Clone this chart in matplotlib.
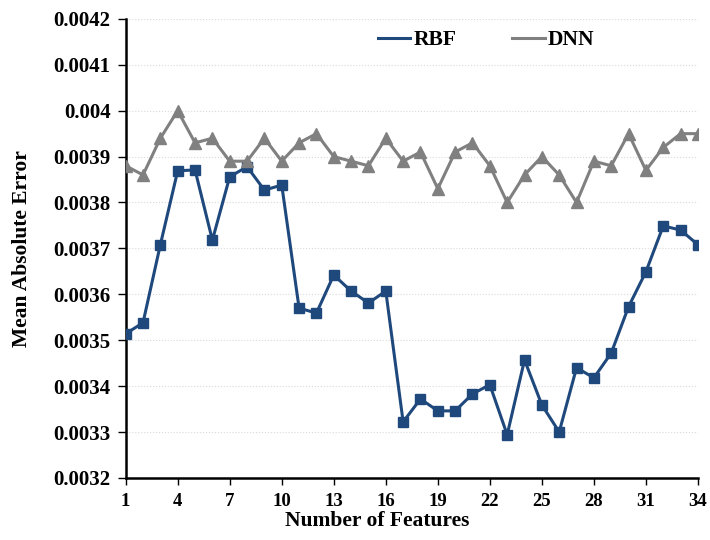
import matplotlib.pyplot as plt

features = list(range(1, 35))
rbf = [0.003514, 0.003538, 0.003708, 0.003869, 0.003871, 0.003718, 0.003856, 0.003878,
       0.003827, 0.003838, 0.003570, 0.003559, 0.003642, 0.003607, 0.003581, 0.003607,
       0.003322, 0.003372, 0.003346, 0.003346, 0.003383, 0.003403, 0.003294, 0.003457,
       0.003359, 0.003300, 0.003440, 0.003418, 0.003472, 0.003573, 0.003649, 0.003749,
       0.003740, 0.003708]
dnn = [0.00388, 0.00386, 0.00394, 0.00400, 0.00393, 0.00394, 0.00389, 0.00389,
       0.00394, 0.00389, 0.00393, 0.00395, 0.00390, 0.00389, 0.00388, 0.00394,
       0.00389, 0.00391, 0.00383, 0.00391, 0.00393, 0.00388, 0.00380, 0.00386,
       0.00390, 0.00386, 0.00380, 0.00389, 0.00388, 0.00395, 0.00387, 0.00392,
       0.00395, 0.00395]
xticks = list(range(1, 35, 3))
yticks = [0.0032, 0.0033, 0.0034, 0.0035, 0.0036, 0.0037, 0.0038, 0.0039, 0.004, 0.0041, 0.0042]
ylabels = ['0.0032', '0.0033', '0.0034', '0.0035', '0.0036', '0.0037', '0.0038', '0.0039', '0.004', '0.0041', '0.0042']

plt.rcParams['font.family'] = 'Liberation Serif'
plt.rcParams['font.weight'] = 'bold'

fig = plt.figure(figsize=(7.1, 5.4), dpi=100)
ax = fig.add_axes([0.177, 0.115, 0.806, 0.85])

ax.plot(features, rbf, color='#1F497D', lw=2.2, marker='s', ms=7.5, label='RBF', zorder=3)
ax.plot(features, dnn, color='#808080', lw=2.2, marker='^', ms=9, label='DNN', zorder=3)

ax.set_xlim(1, 34)
ax.set_ylim(0.0032, 0.0042)
ax.set_xticks(xticks)
ax.set_yticks(yticks)
ax.set_yticklabels(ylabels)
ax.tick_params(axis='y', labelsize=15, length=6, width=1, pad=5)
ax.tick_params(axis='x', labelsize=13.5, length=5, width=1, pad=6)
for lbl in ax.get_xticklabels() + ax.get_yticklabels():
    lbl.set_fontweight('bold')

ax.grid(axis='y', color='#d9d9d9', linestyle=':', lw=0.8)
ax.spines['top'].set_visible(False)
ax.spines['right'].set_visible(False)
ax.spines['left'].set_linewidth(1.8)
ax.spines['bottom'].set_linewidth(1.8)

ax.set_xlabel('Number of Features', fontsize=15.5, fontweight='bold', va='top')
ax.xaxis.set_label_coords(0.44, -0.072)
ax.set_ylabel('Mean Absolute Error', fontsize=15.5, fontweight='bold')
ax.yaxis.set_label_coords(-0.164, 0.5)

leg = ax.legend(loc='center', bbox_to_anchor=(0.63, 0.954), ncol=2, frameon=False,
                fontsize=15.5, handlelength=1.5, handletextpad=0.15, columnspacing=2.6)
for h in leg.get_lines():
    h.set_marker('')
for t in leg.get_texts():
    t.set_fontweight('bold')

fig.savefig('out.png', dpi=100)
